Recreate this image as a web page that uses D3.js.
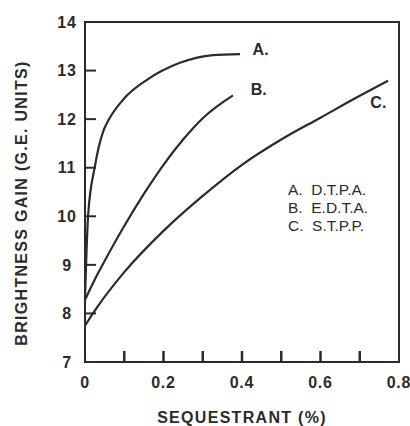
<!DOCTYPE html>
<html>
<head>
<meta charset="utf-8">
<script src="https://cdn.jsdelivr.net/npm/d3@7"></script>
<style>
  body { margin: 0; background: #fff; }
  text { font-family: "Liberation Sans", Arial, sans-serif; fill: #2b2b2b; }
</style>
</head>
<body>
<svg width="410" height="426"></svg>
<script>
// curve data
const xA = [0, 0.004, 0.008, 0.025, 0.046, 0.056, 0.097, 0.158, 0.242, 0.326, 0.395];
const yA = [8.32, 9.31, 10.03, 11.02, 11.74, 11.92, 12.4, 12.81, 13.16, 13.32, 13.34];
const xB = [0, 0.025, 0.05, 0.1, 0.15, 0.2, 0.25, 0.3, 0.377];
const yB = [8.28, 8.7, 9.08, 9.8, 10.46, 11.06, 11.58, 12.02, 12.49];
const xC = [0, 0.025, 0.1, 0.2, 0.3, 0.4, 0.5, 0.6, 0.7, 0.772];
const yC = [7.75, 8.06, 8.85, 9.7, 10.42, 11.06, 11.58, 12.03, 12.48, 12.79];
const curveNames = ["A.", "B.", "C."];
const legendItems = ["A.  D.T.P.A.", "B.  E.D.T.A.", "C.  S.T.P.P."];
const xLabels = [0, 0.2, 0.4, 0.6, 0.8];
const xTicks = [0.1, 0.2, 0.3, 0.4, 0.5, 0.6, 0.7];
const yLabels = [7, 8, 9, 10, 11, 12, 13, 14];
const yTicks = [8, 9, 10, 11, 12, 13];

const ink = "#2b2b2b";
const svg = d3.select("svg");
const margin = {left: 85, top: 22, right: 11, bottom: 64};
const width = 410 - margin.left - margin.right, height = 426 - margin.top - margin.bottom;
const g = svg.append("g").attr("transform", "translate(" + margin.left + "," + margin.top + ")");

const xScale = d3.scaleLinear().domain([0, 0.8]).range([0, width]);
const yScale = d3.scaleLinear().domain([7, 14]).range([height, 0]);

// frame
g.append("rect")
  .attr("width", width).attr("height", height)
  .attr("fill", "none").attr("stroke", ink).attr("stroke-width", 2);

// inward ticks
g.selectAll(".xt").data(xTicks).enter().append("line")
  .attr("x1", d => xScale(d)).attr("x2", d => xScale(d))
  .attr("y1", height).attr("y2", height - 11)
  .attr("stroke", ink).attr("stroke-width", 2.5);
g.selectAll(".yt").data(yTicks).enter().append("line")
  .attr("x1", 0).attr("x2", 11)
  .attr("y1", d => yScale(d)).attr("y2", d => yScale(d))
  .attr("stroke", ink).attr("stroke-width", 2);

// tick labels
g.selectAll(".xl").data(xLabels).enter().append("text")
  .attr("x", d => xScale(d)).attr("y", height + 26)
  .attr("text-anchor", "middle")
  .attr("font-size", "16px").attr("font-weight", "bold").attr("letter-spacing", "0.8px")
  .text(d => d);
g.selectAll(".yl").data(yLabels).enter().append("text")
  .attr("x", -18).attr("y", d => yScale(d)).attr("dy", "0.36em")
  .attr("text-anchor", "middle")
  .attr("font-size", "16px").attr("font-weight", "bold").attr("letter-spacing", "0.8px")
  .text(d => d);

// axis titles
svg.append("text")
  .attr("x", margin.left + width / 2).attr("y", 423)
  .attr("text-anchor", "middle")
  .attr("font-size", "16px").attr("font-weight", "bold").attr("letter-spacing", "1.3px")
  .text("SEQUESTRANT (%)");
svg.append("text")
  .attr("transform", "translate(27," + 203 + ") rotate(-90)")
  .attr("text-anchor", "middle")
  .attr("font-size", "16px").attr("font-weight", "bold").attr("letter-spacing", "1.3px")
  .text("BRIGHTNESS GAIN (G.E. UNITS)");

// curves
const series = [d3.zip(xA, yA), d3.zip(xB, yB), d3.zip(xC, yC)];
const line = d3.line().x(d => xScale(d[0])).y(d => yScale(d[1])).curve(d3.curveMonotoneX);
g.selectAll(".curve").data(series).enter().append("path")
  .attr("d", line)
  .attr("fill", "none").attr("stroke", ink).attr("stroke-width", 2.2);

// curve labels
const labelPos = [[0.427, 13.33], [0.422, 12.5], [0.727, 12.22]];
g.selectAll(".cl").data(curveNames).enter().append("text")
  .attr("x", (d, i) => xScale(labelPos[i][0])).attr("y", (d, i) => yScale(labelPos[i][1]))
  .attr("font-size", "16px").attr("font-weight", "bold")
  .text(d => d);

// legend
g.selectAll(".lg").data(legendItems).enter().append("text")
  .attr("x", 203).attr("y", (d, i) => 173 + i * 18)
  .attr("font-size", "15.5px").attr("xml:space", "preserve")
  .style("white-space", "pre")
  .text(d => d);
</script>
</body>
</html>
